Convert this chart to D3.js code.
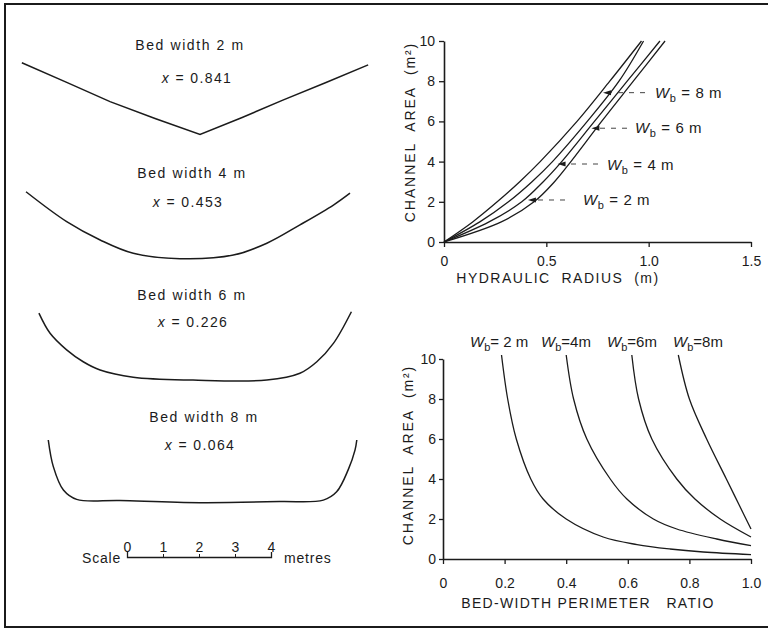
<!DOCTYPE html>
<html>
<head>
<meta charset="utf-8">
<script src="https://cdn.jsdelivr.net/npm/d3@7"></script>
<style>
  body { margin: 0; background: #fff; }
  svg { display: block; font-family: "Liberation Sans", Arial, Helvetica, sans-serif; }
</style>
</head>
<body>
<svg id="fig" width="768" height="631"></svg>
<script>
"use strict";

// Cross sections: [metres from centre, metres below bank top]
const bedWidthNames = ["Bed width 2 m", "Bed width 4 m", "Bed width 6 m", "Bed width 8 m"];
const exponentLabels = ["0.841", "0.453", "0.226", "0.064"];
const section2m = [[-4.81, 0.02], [-3.58, 0.56], [-2.36, 1.10], [-1.11, 1.57], [0.14, 2.01],
  [1.31, 1.54], [2.44, 1.06], [3.64, 0.57], [4.81, 0.08]];
const section4m = [[-4.5, 0.02], [-3.37, 0.85], [-2.44, 1.36], [-1.52, 1.73], [-0.22, 1.88],
  [1.26, 1.78], [2.19, 1.45], [3.11, 0.94], [4.04, 0.39], [4.5, 0.06]];
const section6m = [[-4.28, 0.06], [-3.97, 0.62], [-3.51, 1.08], [-3.05, 1.41], [-2.58, 1.64],
  [-1.66, 1.84], [0, 1.92], [2.05, 1.92], [2.97, 1.73], [3.44, 1.41], [3.9, 0.9], [4.4, 0.02]];
const section8m = [[-4.27, 0], [-4.13, 0.74], [-3.85, 1.39], [-3.48, 1.65], [-2.28, 1.68],
  [-0.06, 1.74], [2.17, 1.71], [3.37, 1.67], [3.74, 1.44], [4.06, 0.83], [4.25, 0.28], [4.3, 0]];
const scaleTicks = [0, 1, 2, 3, 4];

// Channel area vs hydraulic radius
const bedWidths = [2, 4, 6, 8];
const areaLevels = [0, 1, 2, 3, 4, 6, 8, 10];
const radiusWb2 = [0, 0.28, 0.44, 0.54, 0.62, 0.77, 0.925, 1.08];
const radiusWb4 = [0, 0.22, 0.38, 0.485, 0.575, 0.735, 0.895, 1.055];
const radiusWb6 = [0, 0.175, 0.315, 0.43, 0.53, 0.70, 0.855, 0.975];
const radiusWb8 = [0, 0.14, 0.26, 0.37, 0.47, 0.65, 0.81, 0.965];
const arrowRadius = [0.41, 0.555, 0.72, 0.777];
const arrowArea = [2.09, 3.88, 5.66, 7.43];
const radiusTicks = [0, 0.5, 1.0, 1.5];
const areaTicks = [0, 2, 4, 6, 8, 10];

// Channel area vs bed-width perimeter ratio
const ratioWb2 = [0.19, 0.21, 0.238, 0.285, 0.325, 0.40, 0.52, 0.63, 0.737, 0.845, 1.0];
const areaWb2 = [10.2, 8, 6, 4, 3, 2, 1.1, 0.72, 0.5, 0.35, 0.22];
const ratioWb4 = [0.40, 0.424, 0.467, 0.543, 0.597, 0.683, 0.759, 0.889, 1.0];
const areaWb4 = [10.2, 8, 6, 4, 3, 2, 1.5, 1.0, 0.67];
const ratioWb6 = [0.613, 0.635, 0.678, 0.759, 0.818, 0.9, 1.0];
const areaWb6 = [10.2, 8, 6, 4, 3, 2, 1.1];
const ratioWb8 = [0.764, 0.80, 0.856, 0.92, 0.96, 1.0];
const areaWb8 = [10.2, 8, 6, 4, 2.75, 1.5];
const ratioTicks = [0, 0.2, 0.4, 0.6, 0.8, 1.0];

const ink = "#1b1b1b";
const svg = d3.select("#fig");

// frame
svg.append("path")
  .attr("d", "M770,4H5V627H770")
  .attr("fill", "none")
  .attr("stroke", ink)
  .attr("stroke-width", 2);

// ---- cross sections ----
let metre = d3.scaleLinear().domain([0, 4]).range([0, 144]);
let sections = [section2m, section4m, section6m, section8m];
let sectionPos = [
  {cx: 195, top: 62, tx: 190, ty: 50, xx: 197, xy: 83},
  {cx: 188, top: 191, tx: 192, ty: 178, xx: 188, xy: 207},
  {cx: 193, top: 311, tx: 192, ty: 300, xx: 193, xy: 327},
  {cx: 202, top: 440, tx: 204, ty: 422, xx: 200, xy: 450}
];

sections.forEach(function(pts, i) {
  let p = sectionPos[i];
  let line = d3.line()
    .x(d => p.cx + metre(d[0]))
    .y(d => p.top + metre(d[1]))
    .curve(i === 0 ? d3.curveLinear : d3.curveCatmullRom);

  svg.append("path")
    .datum(pts)
    .attr("d", line)
    .attr("fill", "none")
    .attr("stroke", ink)
    .attr("stroke-width", 1.5);

  svg.append("text")
    .attr("x", p.tx)
    .attr("y", p.ty)
    .attr("text-anchor", "middle")
    .attr("font-size", 14)
    .attr("letter-spacing", 1.6)
    .attr("fill", ink)
    .text(bedWidthNames[i]);

  let xt = svg.append("text")
    .attr("x", p.xx)
    .attr("y", p.xy)
    .attr("text-anchor", "middle")
    .attr("font-size", 14)
    .attr("letter-spacing", 1.4)
    .attr("fill", ink)
    .style("white-space", "pre");
  xt.append("tspan").attr("font-style", "italic").text("x");
  xt.append("tspan").text(" = " + exponentLabels[i]);
});

// scale bar
let scaleBar = d3.scaleLinear().domain([0, 4]).range([127, 127 + metre(4)]);
let sb = svg.append("g")
  .attr("transform", "translate(0,557)")
  .call(d3.axisTop(scaleBar).tickValues(scaleTicks).tickFormat(d3.format("d"))
    .tickSize(3).tickSizeOuter(5).tickPadding(2));
sb.select(".domain").attr("stroke", ink).attr("stroke-width", 1.3);
sb.selectAll(".tick line").attr("stroke", ink);
sb.selectAll(".tick text").attr("font-size", 14).attr("fill", ink).attr("font-family", null);

svg.append("text").attr("x", 82).attr("y", 563).attr("font-size", 14)
  .attr("letter-spacing", 0.8).attr("fill", ink).text("Scale");
svg.append("text").attr("x", 284).attr("y", 563).attr("font-size", 14)
  .attr("letter-spacing", 0.8).attr("fill", ink).text("metres");

// ---- axis helper ----
function styleAxis(g) {
  g.select(".domain").attr("stroke", ink).attr("stroke-width", 1.6);
  g.selectAll(".tick line").attr("stroke", ink).attr("stroke-width", 1.3);
  g.selectAll(".tick text").attr("font-size", 14).attr("fill", ink).attr("font-family", null);
}

function fmt(d) {
  return d === 0 ? "0" : d3.format(".1f")(d);
}

function wbLabel(sel, w, sep) {
  sel.style("white-space", "pre");
  sel.append("tspan").attr("font-style", "italic").text("W");
  sel.append("tspan").attr("dy", 4).attr("font-size", 11).text("b");
  sel.append("tspan").attr("dy", -4).text(sep + w + (sep.length > 1 ? " m" : "m"));
}

// ---- area vs hydraulic radius ----
let xR = d3.scaleLinear().domain([0, 1.5]).range([444, 751]);
let yA = d3.scaleLinear().domain([0, 10]).range([242, 41]);

let gx1 = svg.append("g").attr("transform", "translate(0,242)")
  .call(d3.axisBottom(xR).tickValues(radiusTicks).tickFormat(fmt).tickSize(5).tickSizeOuter(0).tickPadding(9));
styleAxis(gx1);
let gy1 = svg.append("g").attr("transform", "translate(444,0)")
  .call(d3.axisLeft(yA).tickValues(areaTicks).tickFormat(d3.format("d")).tickSize(5).tickSizeOuter(0).tickPadding(4));
styleAxis(gy1);

let radiusSeries = [radiusWb2, radiusWb4, radiusWb6, radiusWb8];
let radiusLine = d3.line()
  .x(d => xR(d[0]))
  .y(d => yA(d[1]))
  .curve(d3.curveCatmullRom.alpha(0.5));

radiusSeries.forEach(function(r) {
  svg.append("path")
    .datum(r.map((v, j) => [v, areaLevels[j]]))
    .attr("d", radiusLine)
    .attr("fill", "none")
    .attr("stroke", ink)
    .attr("stroke-width", 1.3);
});

// labels with leaders
let topLabelPos = [[583, 205], [607, 170], [635, 133], [655, 98]];
let leaderStart = [565, 598, 627, 645];
bedWidths.forEach(function(w, i) {
  let tx = xR(arrowRadius[i]);
  let ty = yA(arrowArea[i]);
  svg.append("line")
    .attr("x1", leaderStart[i]).attr("y1", ty)
    .attr("x2", tx + 6).attr("y2", ty)
    .attr("stroke", "#444")
    .attr("stroke-width", 1)
    .attr("stroke-dasharray", "5,6");
  svg.append("path")
    .attr("d", "M" + tx + "," + ty + "l8,-2.5v5z")
    .attr("fill", ink);
  let t = svg.append("text")
    .attr("x", topLabelPos[i][0])
    .attr("y", topLabelPos[i][1])
    .attr("font-size", 15)
    .attr("letter-spacing", 0.6)
    .attr("fill", ink);
  wbLabel(t, w, " = ");
});

svg.append("text")
  .attr("transform", "translate(415,132) rotate(-90)")
  .attr("text-anchor", "middle")
  .attr("font-size", 14)
  .attr("letter-spacing", 1.9)
  .attr("fill", ink)
  .style("white-space", "pre")
  .text("CHANNEL  AREA  (m\u00b2)");

svg.append("text")
  .attr("x", 558).attr("y", 283)
  .attr("text-anchor", "middle")
  .attr("font-size", 14)
  .attr("letter-spacing", 1.5)
  .attr("fill", ink)
  .style("white-space", "pre")
  .text("HYDRAULIC  RADIUS  (m)");

// ---- area vs bed-width perimeter ratio ----
let xP = d3.scaleLinear().domain([0, 1]).range([443, 751]);
let yB = d3.scaleLinear().domain([0, 10]).range([559, 359]);

let gx2 = svg.append("g").attr("transform", "translate(0,559)")
  .call(d3.axisBottom(xP).tickValues(ratioTicks).tickFormat(fmt).tickSize(5).tickSizeOuter(0).tickPadding(14));
styleAxis(gx2);
let gy2 = svg.append("g").attr("transform", "translate(443,0)")
  .call(d3.axisLeft(yB).tickValues(areaTicks).tickFormat(d3.format("d")).tickSize(4).tickSizeOuter(0).tickPadding(3));
styleAxis(gy2);

let ratioSeries = [[ratioWb2, areaWb2], [ratioWb4, areaWb4], [ratioWb6, areaWb6], [ratioWb8, areaWb8]];
let ratioLine = d3.line()
  .x(d => xP(d[0]))
  .y(d => yB(d[1]))
  .curve(d3.curveCatmullRom.alpha(0.5));

ratioSeries.forEach(function(s) {
  svg.append("path")
    .datum(s[0].map((v, j) => [v, s[1][j]]))
    .attr("d", ratioLine)
    .attr("fill", "none")
    .attr("stroke", ink)
    .attr("stroke-width", 1.3);
});

let bottomLabelX = [470, 541, 607, 673];
bedWidths.forEach(function(w, i) {
  let t = svg.append("text")
    .attr("x", bottomLabelX[i])
    .attr("y", 347)
    .attr("font-size", 15)
    .attr("fill", ink);
  wbLabel(t, w, i === 0 ? "= " : "=");
});

svg.append("text")
  .attr("transform", "translate(413,455) rotate(-90)")
  .attr("text-anchor", "middle")
  .attr("font-size", 14)
  .attr("letter-spacing", 1.9)
  .attr("fill", ink)
  .style("white-space", "pre")
  .text("CHANNEL  AREA  (m\u00b2)");

svg.append("text")
  .attr("x", 588).attr("y", 608)
  .attr("text-anchor", "middle")
  .attr("font-size", 14)
  .attr("letter-spacing", 1.3)
  .attr("fill", ink)
  .style("white-space", "pre")
  .text("BED-WIDTH PERIMETER   RATIO");
</script>
</body>
</html>
